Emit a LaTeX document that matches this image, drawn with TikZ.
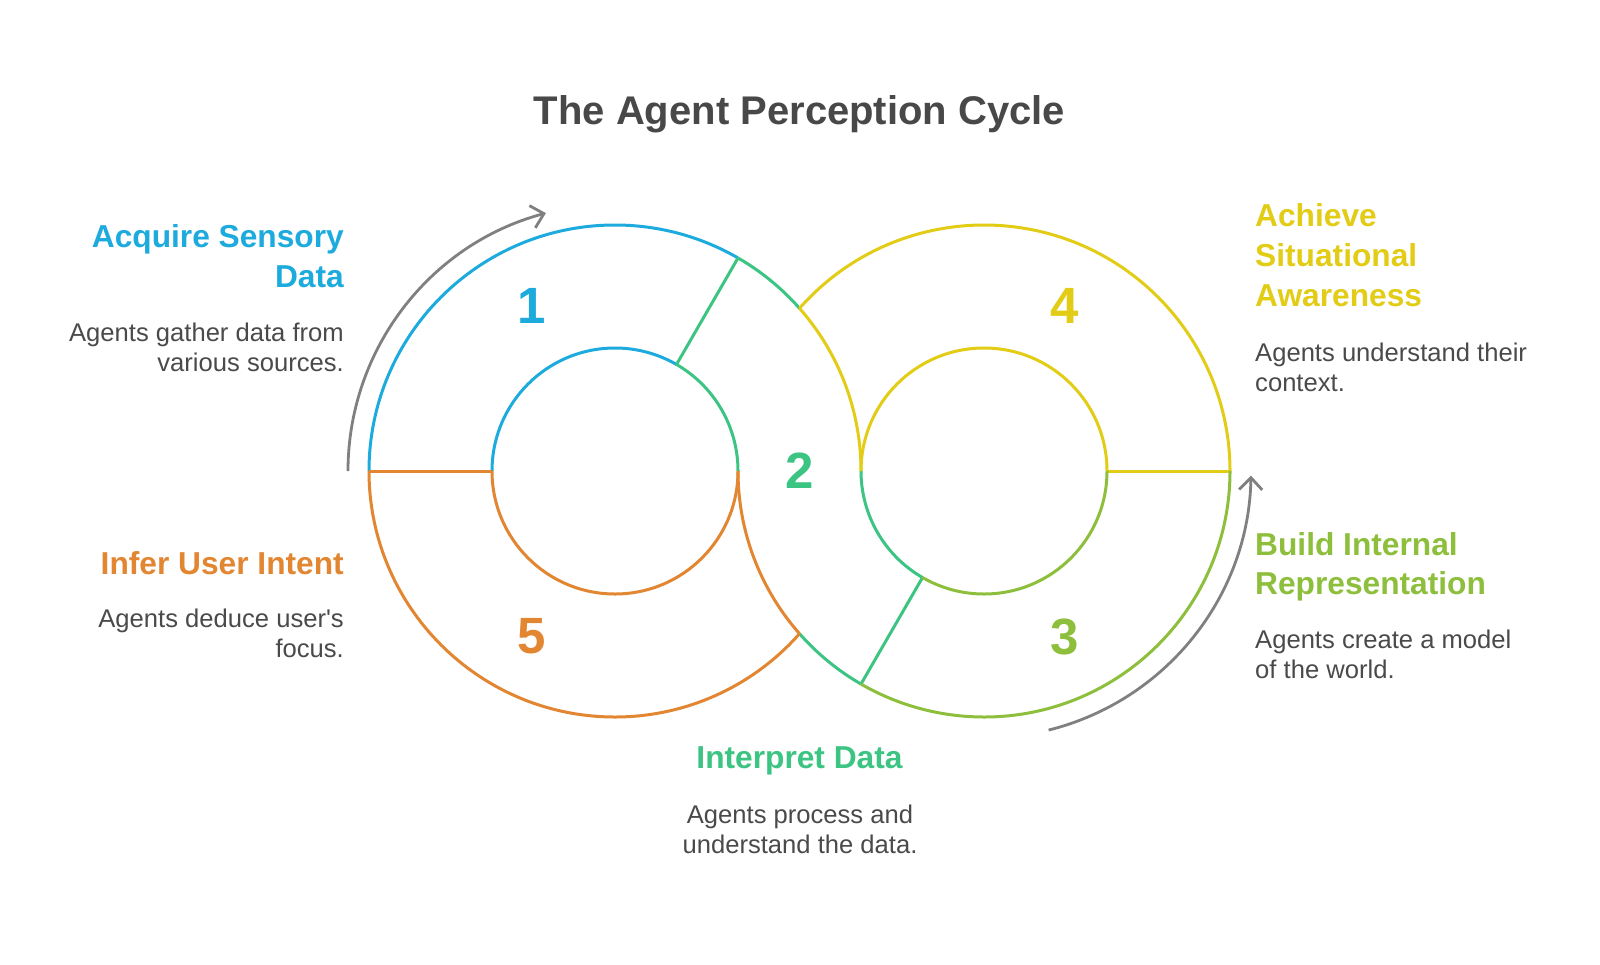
\documentclass[tikz,border=0pt]{standalone}
\usepackage{fontspec}
\setmainfont{Liberation Sans}[Ligatures=TeXOff]
\usetikzlibrary{arrows.meta}
\definecolor{cblue}{RGB}{29,171,222}
\definecolor{cgreen}{RGB}{60,196,130}
\definecolor{cyellow}{RGB}{226,204,22}
\definecolor{clime}{RGB}{142,191,60}
\definecolor{corange}{RGB}{226,134,50}
\definecolor{titlegray}{RGB}{72,72,72}
\definecolor{bodygray}{RGB}{74,74,74}
\definecolor{arrowgray}{RGB}{128,128,128}
\newcommand\ringarc[5]{\draw[ring,#1] ([shift={(#4:#3)}]#2) arc[start angle=#4,end angle=#5,radius=#3];}
\newcommand\ringspoke[4]{\draw[ring,#1] ([shift={(#3:123pt)}]#2) -- ([shift={(#3:246pt)}]#2);}
\newcommand\lines[2]{\begin{tabular}[t]{@{}#1@{}}#2\end{tabular}}
\begin{document}
\begin{tikzpicture}[x=1pt,y=1pt,
  ring/.style={line width=3pt},
  cyclearrow/.style={arrowgray,line width=2.8pt,-{Straight Barb[length=12pt,width=23pt]}},
  head/.style={inner sep=0pt,font=\bfseries\fontsize{31.7}{39.8}\selectfont},
  desc/.style={inner sep=0pt,text=bodygray,font=\fontsize{25.6}{29.8}\selectfont},
  num/.style={inner sep=0pt,font=\bfseries\fontsize{51}{60}\selectfont}]
\fill[white] (0,0) rectangle (1600,-964);
\useasboundingbox (0,0) rectangle (1600,-964);

\coordinate (L) at (615,-471);
\coordinate (R) at (984,-471);

% segment 1 (blue)
\ringarc{cblue}{L}{246pt}{180}{60}
\ringarc{cblue}{L}{123pt}{180}{60}
% segment 2 (green)
\ringarc{cgreen}{L}{246pt}{60}{41.41}
\ringarc{cgreen}{L}{123pt}{60}{0}
\ringarc{cgreen}{R}{123pt}{180}{240}
\ringarc{cgreen}{R}{246pt}{221.41}{240}
\ringspoke{cgreen}{L}{60}{}
\ringspoke{cgreen}{R}{240}{}
% segment 4 (yellow)
\ringarc{cyellow}{L}{246pt}{41.41}{0}
\ringarc{cyellow}{R}{123pt}{180}{0}
\ringarc{cyellow}{R}{246pt}{138.59}{0}
\ringspoke{cyellow}{R}{0}{}
% segment 3 (lime)
\ringarc{clime}{R}{246pt}{0}{-120}
\ringarc{clime}{R}{123pt}{0}{-120}
% segment 5 (orange)
\ringarc{corange}{L}{246pt}{180}{318.59}
\ringarc{corange}{L}{123pt}{180}{360}
\ringarc{corange}{R}{246pt}{180}{221.41}
\ringspoke{corange}{L}{180}{}

% cycle arrows
\coordinate (a1s) at ([shift={(180:267pt)}]L);
\coordinate (a2s) at ([shift={(-76:267pt)}]R);
\draw[cyclearrow] (a1s) arc[start angle=180,end angle=105,radius=267pt];
\draw[cyclearrow] (a2s) arc[start angle=-76,end angle=-1,radius=267pt];

% numbers
\node[num,text=cblue] (n1) at (531.7,-305.7) {1};
\node[num,text=cgreen] (n2) at (799.5,-471) {2};
\node[num,text=clime] (n3) at (1065,-636.5) {3};
\node[num,text=cyellow] (n4) at (1065,-305.7) {4};
\node[num,text=corange] (n5) at (532,-636.5) {5};

% title
\node[inner sep=0pt,text=titlegray,font=\bfseries\fontsize{40}{48}\selectfont,anchor=base] (title) at (799.5,-124.5) {The Agent Perception Cycle};

% left texts
\node[head,text=cblue,anchor=base east] (h1) at (344,-247.7) {\lines{r}{Acquire Sensory\\Data}};
\node[desc,anchor=base east] (d1) at (344,-341.7) {\lines{r}{Agents gather data from\\various sources.}};
\node[head,text=corange,anchor=base east] (h5) at (344,-574.3) {Infer User Intent};
\node[desc,anchor=base east] (d5) at (344,-627.3) {\lines{r}{Agents deduce user's\\focus.}};

% right texts
\node[head,text=cyellow,anchor=base west] (h4) at (1255,-226.7) {\lines{l}{Achieve\\Situational\\Awareness}};
\node[desc,anchor=base west] (d4) at (1255,-361.7) {\lines{l}{Agents understand their\\context.}};
\node[head,text=clime,anchor=base west] (h3) at (1255,-555) {\lines{l}{Build Internal\\Representation}};
\node[desc,anchor=base west] (d3) at (1255,-648.3) {\lines{l}{Agents create a model\\of the world.}};

% bottom texts
\node[head,text=cgreen,anchor=base] (h2) at (799.5,-768.3) {Interpret Data};
\node[desc,anchor=base] (d2) at (800,-823.5) {\lines{c}{Agents process and\\understand the data.}};
\end{tikzpicture}
\end{document}
